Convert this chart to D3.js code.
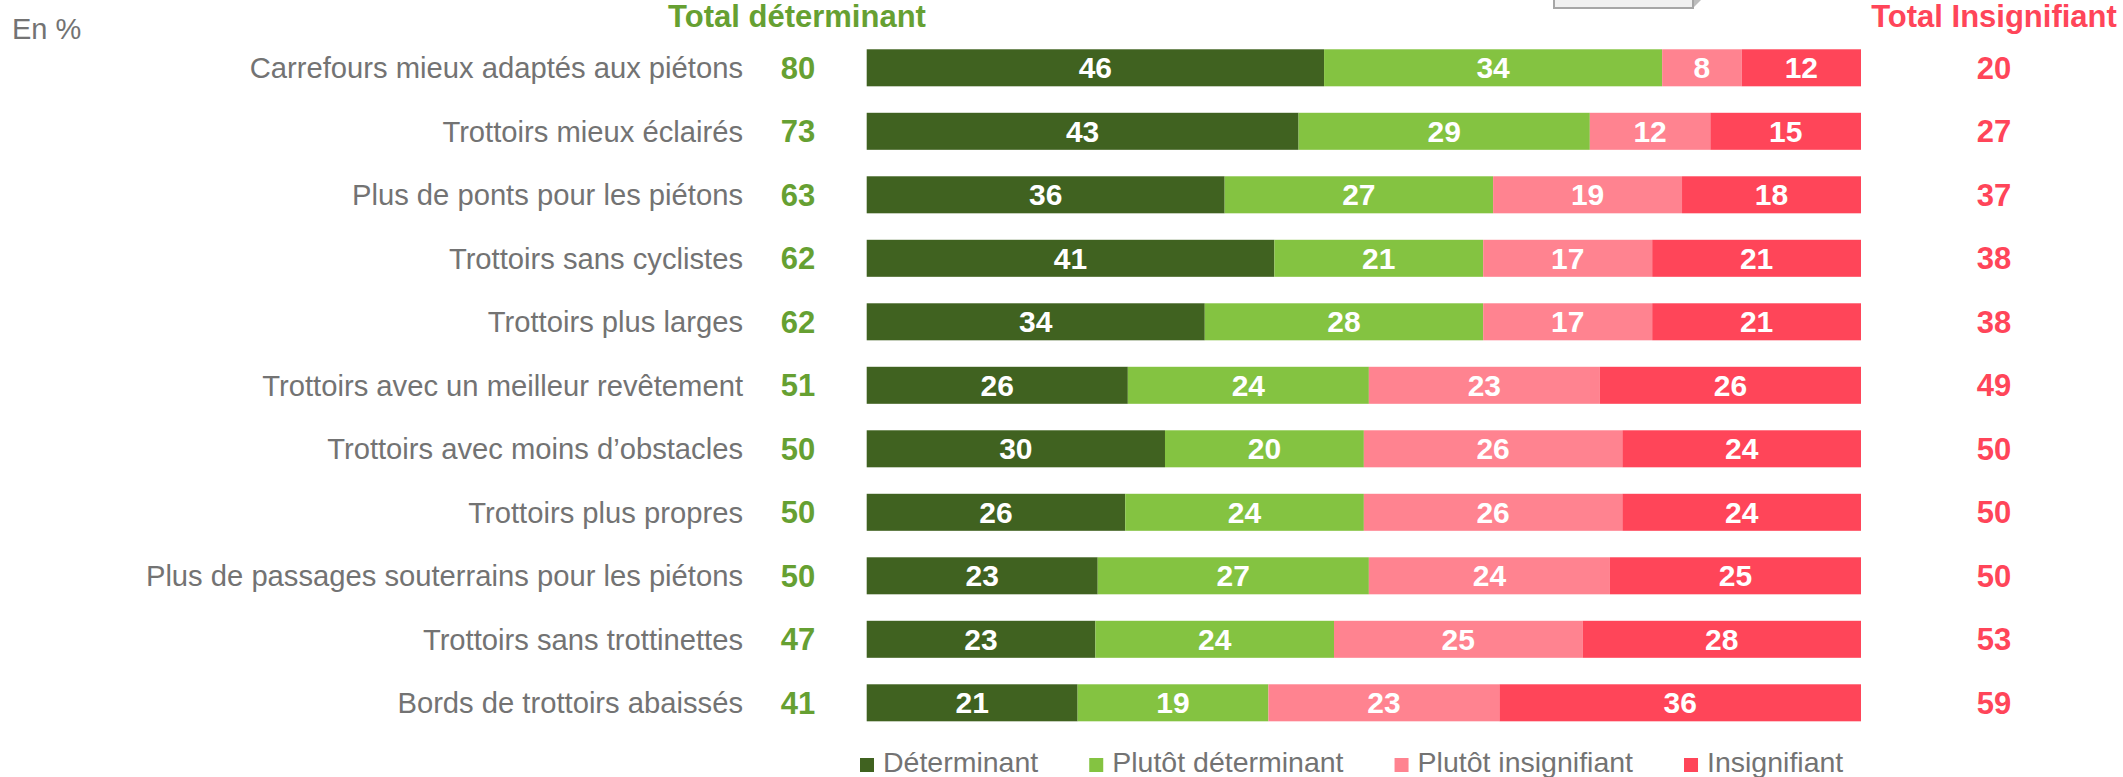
<!DOCTYPE html>
<html>
<head>
<meta charset="utf-8">
<script src="https://cdn.jsdelivr.net/npm/d3@7"></script>
<style>
    body { margin: 0; background: #fff; }
    #chart-area text { font-family: "Liberation Sans", Arial, sans-serif; }
</style>
</head>
<body>
<div id="chart-area"></div>
<script>
// chart values
const categories = [
    "Carrefours mieux adaptés aux piétons",
    "Trottoirs mieux éclairés",
    "Plus de ponts pour les piétons",
    "Trottoirs sans cyclistes",
    "Trottoirs plus larges",
    "Trottoirs avec un meilleur revêtement",
    "Trottoirs avec moins d’obstacles",
    "Trottoirs plus propres",
    "Plus de passages souterrains pour les piétons",
    "Trottoirs sans trottinettes",
    "Bords de trottoirs abaissés"
];
const seriesNames = ["Déterminant", "Plutôt déterminant", "Plutôt insignifiant", "Insignifiant"];
const determinant = [46, 43, 36, 41, 34, 26, 30, 26, 23, 23, 21];
const plutotDeterminant = [34, 29, 27, 21, 28, 24, 20, 24, 27, 24, 19];
const plutotInsignifiant = [8, 12, 19, 17, 17, 23, 26, 26, 24, 25, 23];
const insignifiant = [12, 15, 18, 21, 21, 26, 24, 24, 25, 28, 36];
const totalDeterminant = [80, 73, 63, 62, 62, 51, 50, 50, 50, 47, 41];
const totalInsignifiant = [20, 27, 37, 38, 38, 49, 50, 50, 50, 53, 59];

class StackedBars {
    constructor(_parentElement) {
        this.parentElement = _parentElement;
        this.initVis();
    }

    initVis() {
        let vis = this;
        vis.width = 2123;
        vis.height = 777;

        vis.svg = d3.select("#" + vis.parentElement).append("svg")
            .attr("width", vis.width)
            .attr("height", vis.height);

        vis.color = d3.scaleOrdinal()
            .domain(seriesNames)
            .range(["#406220", "#84c341", "#ff8390", "#ff4559"]);

        vis.x = d3.scaleLinear().domain([0, 1]).range([866.7, 1861]);
        vis.y = d3.scaleBand()
            .domain(categories)
            .range([36.05, 734.55])
            .paddingInner(0.417)
            .paddingOuter(0.2085);

        vis.labelColor = "#737373";
        vis.greenText = "#66a032";
        vis.redText = "#ff4559";

        vis.wrangleData();
    }

    wrangleData() {
        let vis = this;
        vis.rows = categories.map((c, i) => ({
            name: c,
            "Déterminant": determinant[i],
            "Plutôt déterminant": plutotDeterminant[i],
            "Plutôt insignifiant": plutotInsignifiant[i],
            "Insignifiant": insignifiant[i],
            totD: totalDeterminant[i],
            totI: totalInsignifiant[i]
        }));
        // bars are drawn as 100% stacks (some rows sum to 99)
        vis.stacked = d3.stack()
            .keys(seriesNames)
            .offset(d3.stackOffsetExpand)(vis.rows);
        vis.updateVis();
    }

    updateVis() {
        let vis = this;
        let cy = d => vis.y(d.name) + vis.y.bandwidth() / 2;

        // "En %"
        vis.svg.append("text")
            .attr("x", 12).attr("y", 39)
            .style("font-size", "29px").style("fill", vis.labelColor)
            .text("En %");

        // grey box cut at the top
        vis.svg.append("polygon")
            .attr("points", "1693,8 1705,-4 1693,-4")
            .style("fill", "#bdbdbd");
        vis.svg.append("rect")
            .attr("x", 1554).attr("y", -10).attr("width", 139).attr("height", 18)
            .style("fill", "#f0f0f0").style("stroke", "#a6a6a6").style("stroke-width", 2);

        // column headers
        vis.svg.append("text")
            .attr("x", 797).attr("y", 27).attr("text-anchor", "middle")
            .style("font-size", "31px").style("font-weight", "bold").style("fill", vis.greenText)
            .text("Total déterminant");
        vis.svg.append("text")
            .attr("x", 1994).attr("y", 27).attr("text-anchor", "middle")
            .style("font-size", "31px").style("font-weight", "bold").style("fill", vis.redText)
            .text("Total Insignifiant");

        // bars
        let layers = vis.svg.selectAll(".layer")
            .data(vis.stacked)
            .enter().append("g")
            .attr("class", "layer")
            .style("fill", d => vis.color(d.key));

        layers.selectAll("rect")
            .data(d => d)
            .enter().append("rect")
            .attr("x", d => vis.x(d[0]))
            .attr("y", d => vis.y(d.data.name))
            .attr("width", d => vis.x(d[1]) - vis.x(d[0]))
            .attr("height", vis.y.bandwidth());

        layers.selectAll(".seg-label")
            .data(d => d.map(p => ({ p: p, key: d.key })))
            .enter().append("text")
            .attr("class", "seg-label")
            .attr("x", d => (vis.x(d.p[0]) + vis.x(d.p[1])) / 2)
            .attr("y", d => cy(d.p.data) + 10.5)
            .attr("text-anchor", "middle")
            .style("font-size", "30px").style("font-weight", "bold").style("fill", "#fff")
            .text(d => d.p.data[d.key]);

        // category labels and totals
        let rowsG = vis.svg.selectAll(".row")
            .data(vis.rows)
            .enter().append("g")
            .attr("class", "row");

        rowsG.append("text")
            .attr("x", 743).attr("y", d => cy(d) + 10.5)
            .attr("text-anchor", "end")
            .style("font-size", "29.2px").style("fill", vis.labelColor)
            .text(d => d.name);

        rowsG.append("text")
            .attr("x", 798).attr("y", d => cy(d) + 11)
            .attr("text-anchor", "middle")
            .style("font-size", "31px").style("font-weight", "bold").style("fill", vis.greenText)
            .text(d => d.totD);

        rowsG.append("text")
            .attr("x", 1994).attr("y", d => cy(d) + 11)
            .attr("text-anchor", "middle")
            .style("font-size", "31px").style("font-weight", "bold").style("fill", vis.redText)
            .text(d => d.totI);

        // legend
        let lx = 860;
        seriesNames.forEach(function(s) {
            vis.svg.append("rect")
                .attr("x", lx).attr("y", 758).attr("width", 14).attr("height", 14)
                .style("fill", vis.color(s));
            let t = vis.svg.append("text")
                .attr("x", lx + 23).attr("y", 772)
                .style("font-size", "28.5px").style("fill", vis.labelColor)
                .text(s);
            lx += 23 + t.node().getComputedTextLength() + 51;
        });
    }
}

new StackedBars("chart-area");
</script>
</body>
</html>
